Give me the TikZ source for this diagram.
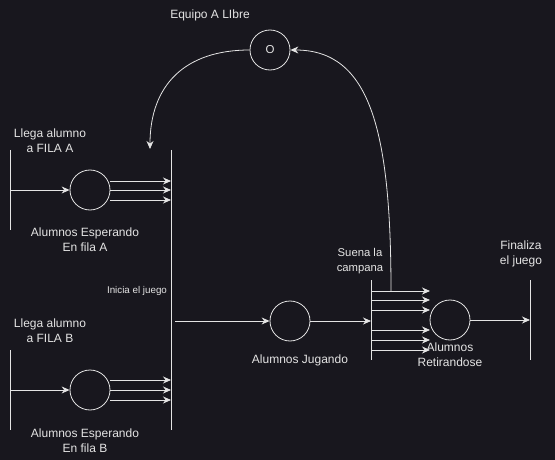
\documentclass[tikz,border=0pt]{standalone}
\usepackage{fontspec}
\setmainfont{Liberation Sans}
\usetikzlibrary{arrows.meta}
\definecolor{bg}{RGB}{24,23,30}
\definecolor{fg}{RGB}{228,228,228}
\begin{document}
\begin{tikzpicture}[x=1pt,y=-1pt,
 circ/.style={circle,draw=fg,minimum size=40pt,inner sep=0pt,line width=0.8pt,text=fg,font=\fontsize{11.5}{13}\selectfont},
 lbl/.style={text=fg,font=\fontsize{12}{15}\selectfont,align=center,inner sep=0pt},
 small/.style={text=fg,font=\fontsize{9.8}{11}\selectfont,align=center,inner sep=0pt},
 mid/.style={text=fg,font=\fontsize{11.3}{15}\selectfont,align=center,inner sep=0pt},
 bar/.style={draw=fg,line width=0.8pt},
 arr/.style={draw=fg,line width=0.8pt,-{Stealth[length=8pt,width=7pt]}}
]
\fill[bg] (0,0) rectangle (555,460);
\useasboundingbox (0,0) rectangle (555,460);

% circles
\node[circ] (cA) at (90,190) {};
\node[circ] (cB) at (90,390) {};
\node[circ] (cJ) at (290,321) {};
\node[circ] (cR) at (450,320) {};
\node[circ] (cO) at (270,50) {O};

% bars
\coordinate (a1) at (10,150); \coordinate (a2) at (10,230);
\coordinate (b1) at (10,350); \coordinate (b2) at (10,430);
\coordinate (m1) at (171,150); \coordinate (m2) at (171,430);
\coordinate (s1) at (371,280); \coordinate (s2) at (371,360);
\coordinate (e1) at (530,280); \coordinate (e2) at (530,360);
\draw[bar] (a1) -- (a2);
\draw[bar] (b1) -- (b2);
\draw[bar] (m1) -- (m2);
\draw[bar] (s1) -- (s2);
\draw[bar] (e1) -- (e2);

% inputs
\coordinate (inA) at (10,190);
\coordinate (inB) at (10,390);
\draw[arr] (inA) -- (cA);
\draw[arr] (inB) -- (cB);

% fan arrows to main bar
\foreach \y in {181,190,200} \draw[arr] (cA.east |- 0,\y) -- (m1 |- 0,\y);
\foreach \y in {380,390,400} \draw[arr] (cB.east |- 0,\y) -- (m1 |- 0,\y);

% game
\coordinate (start) at (175,321);
\draw[arr] (start) -- (cJ);
\draw[arr] (cJ) -- (s1 |- cJ);

% bell fan
\coordinate (tipX) at (430,0);
\foreach \y in {291,300,310,330,340,350} \draw[arr] (s1 |- 0,\y) -- (tipX |- 0,\y);

% end
\draw[arr] (cR) -- (e1 |- cR);

% curves
\coordinate (bellTop) at (391,291);
\coordinate (mTop) at (150,149);
\draw[arr] (bellTop) .. controls (391,130) and (370,50) .. (cO.east);
\draw[arr] (cO.west) .. controls (185,50) and (150,85) .. (mTop);

% labels
\node[lbl] (lA) at (50,141) {Llega alumno\\a FILA A};
\node[lbl] (eA) at (85,240) {Alumnos Esperando\\En fila A};
\node[lbl] (lB) at (50,331) {Llega alumno\\a FILA B};
\node[lbl] (eB) at (85,441) {Alumnos Esperando\\En fila B};
\node[small] (ini) at (137,291) {Inicia el juego};
\node[lbl] (jug) at (300,360) {Alumnos Jugando};
\node[mid] (bell) at (360,261) {Suena la\\campana};
\node[lbl] (fin) at (521,254) {Finaliza\\el juego};
\node[lbl] (ret) at (450,355) {Alumnos\\Retirandose};
\node[lbl] (eq) at (210,15) {Equipo A LIbre};
\end{tikzpicture}
\end{document}
